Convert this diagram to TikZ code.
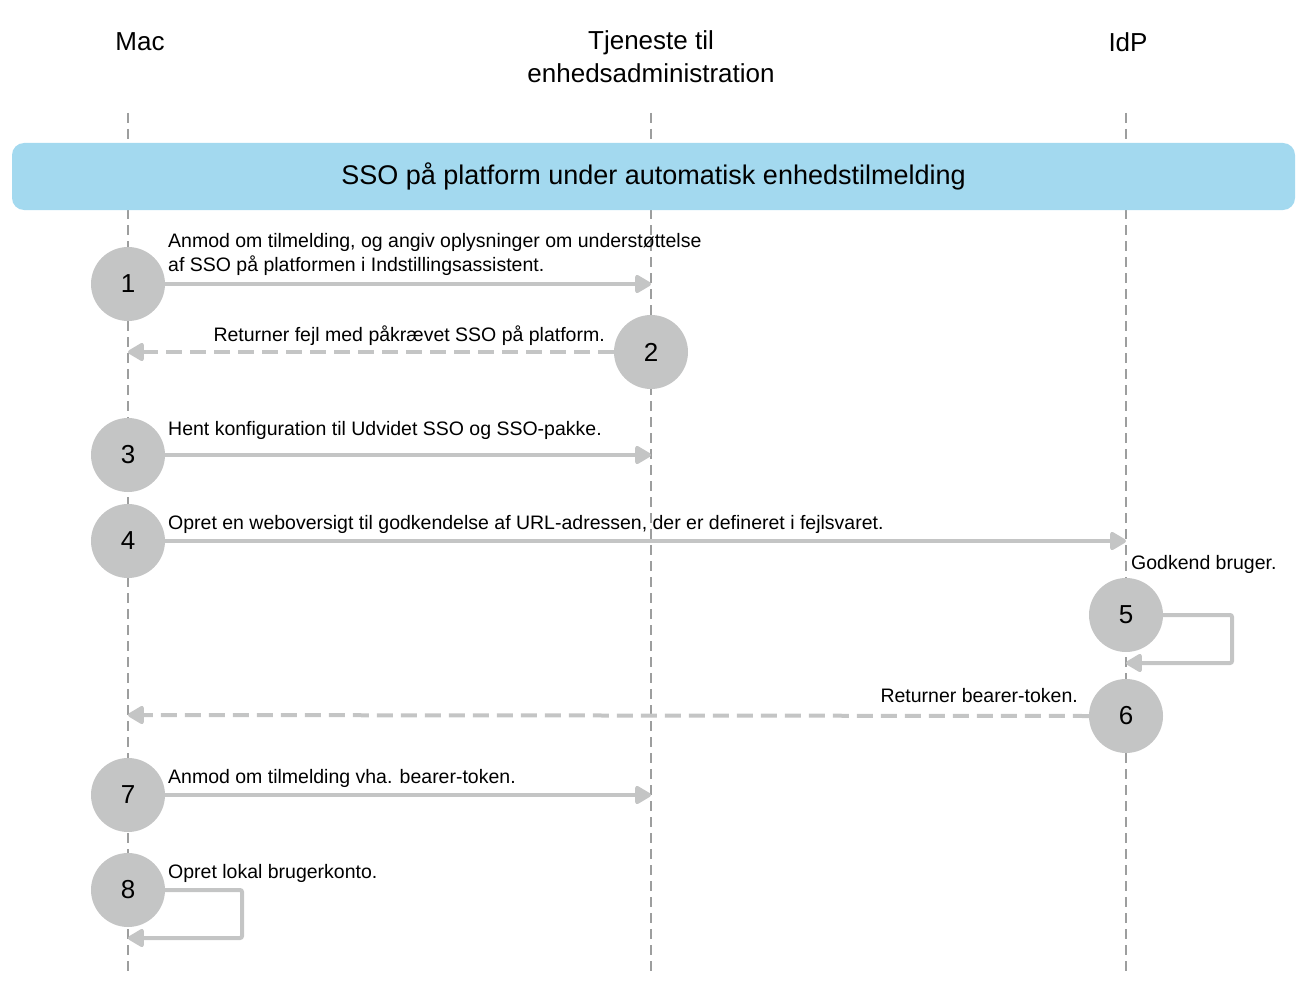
\documentclass[tikz,border=0pt]{standalone}
\usepackage{fontspec}
\setmainfont{Liberation Sans}
\usetikzlibrary{arrows.meta}
\definecolor{gr}{HTML}{C4C5C5}
\definecolor{ban}{HTML}{A3D9EF}
\begin{document}
\begin{tikzpicture}[x=1pt,y=-1pt,
 life/.style={gr!80!black,line width=1.2pt,dash pattern=on 10pt off 6pt},
 stepc/.style={circle,fill=gr,minimum size=74pt,inner sep=0pt,font=\fontsize{26}{30}\selectfont},
 msg/.style={gr,line width=4pt,-{Triangle[length=18pt,width=20pt,round]}},
 ret/.style={msg,dash pattern=on 16pt off 8pt},
 lab/.style={font=\fontsize{19.5}{24}\selectfont,inner sep=0pt},
 head/.style={font=\fontsize{26}{33}\selectfont,align=center}]
\useasboundingbox (0,0) rectangle (1303,987);
\node[head] (hm) at (140,42) {Mac};
\node[head] (ht) at (651,57) {Tjeneste til\\enhedsadministration};
\node[head] (hi) at (1128,42) {IdP};
\coordinate (m0) at (128,113); \coordinate (m1) at (128,975);
\coordinate (t0) at (651,113); \coordinate (t1) at (651,975);
\coordinate (i0) at (1126,113); \coordinate (i1) at (1126,975);
\draw[life] (m0)--(m1); \draw[life] (t0)--(t1); \draw[life] (i0)--(i1);
\node[fill=ban,rounded corners=12pt,minimum width=1283pt,minimum height=67pt,font=\fontsize{27}{32}\selectfont] (b) at (653.5,176.5) {SSO på platform under automatisk enhedstilmelding};
\node[stepc] (s1) at (128,284) {1};
\node[stepc] (s2) at (651,352) {2};
\node[stepc] (s3) at (128,455) {3};
\node[stepc] (s4) at (128,541) {4};
\node[stepc] (s5) at (1126,615) {5};
\node[stepc] (s6) at (1126,716) {6};
\node[stepc] (s7) at (128,795) {7};
\node[stepc] (s8) at (128,890) {8};
\coordinate (e1) at (651,284); \coordinate (e2) at (128,352);
\coordinate (e3) at (651,455); \coordinate (e4) at (1126,541);
\coordinate (e6) at (128,715); \coordinate (e7) at (651,795);
\coordinate (c5a) at (1232,615); \coordinate (c5b) at (1232,663); \coordinate (e5) at (1126,663);
\coordinate (c8a) at (242,890); \coordinate (c8b) at (242,938); \coordinate (e8) at (128,938);
\draw[msg] (s1.east)--(e1);
\draw[ret] (s2.west)--(e2);
\draw[msg] (s3.east)--(e3);
\draw[msg] (s4.east)--(e4);
\draw[msg,rounded corners=2pt] (s5.east)--(c5a)--(c5b)--(e5);
\draw[ret] (s6.west)--(e6);
\draw[msg] (s7.east)--(e7);
\draw[msg,rounded corners=2pt] (s8.east)--(c8a)--(c8b)--(e8);
\node[lab,anchor=west,align=left] (l1) at (168,254) {Anmod om tilmelding, og angiv oplysninger om understøttelse\\af SSO på platformen i Indstillingsassistent.};
\node[lab,anchor=east] (l2) at (605,336) {Returner fejl med påkrævet SSO på platform.};
\node[lab,anchor=west] (l3) at (168,430) {Hent konfiguration til Udvidet SSO og SSO-pakke.};
\node[lab,anchor=west] (l4) at (168,524) {Opret en weboversigt til godkendelse af URL-adressen, der er defineret i fejlsvaret.};
\node[lab,anchor=west] (l5) at (1131,564) {Godkend bruger.};
\node[lab,anchor=east] (l6) at (1078,696) {Returner bearer-token.};
\node[lab,anchor=west] (l7) at (168,778) {Anmod om tilmelding vha. bearer-token.};
\node[lab,anchor=west] (l8) at (168,873) {Opret lokal brugerkonto.};
\end{tikzpicture}
\end{document}
